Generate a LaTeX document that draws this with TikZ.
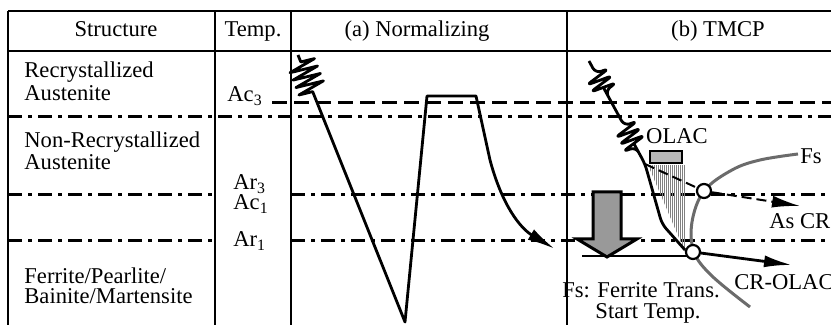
\documentclass[tikz,border=0pt]{standalone}
\usepackage{fontspec}
\setmainfont{Liberation Serif}
\usetikzlibrary{arrows.meta,decorations.pathmorphing,calc}

\definecolor{fsgrau}{gray}{0.42}
\definecolor{boxgrau}{gray}{0.72}
\definecolor{pfeilgrau}{gray}{0.6}

\tikzset{
    tabelle/.style={line width=0.8pt},
    strich/.style={line width=1.5pt, dash pattern=on 7.5pt off 3.5pt},
    strichpunkt/.style={line width=1.5pt, dash pattern=on 7pt off 3pt on 2pt off 3pt},
    kurve/.style={line width=1.4pt, line join=round},
    feder/.style={decoration={zigzag, amplitude=7pt, segment length=4pt}},
    spitze/.style={-{Latex[length=14pt, width=6pt]}},
    ring/.style={circle, draw, line width=1.1pt, fill=white, minimum size=7pt, inner sep=0pt},
    txt/.style={font=\fontsize{11.3}{13.5}\selectfont, inner sep=0pt, anchor=base west}
}

\begin{document}
\begin{tikzpicture}[x=0.5pt, y=-0.5pt]
    \useasboundingbox (0,0) rectangle (831,325);
    % Tabelle
    \draw[tabelle] (8,11) -- (831,11) (8,51) -- (831,51);
    \foreach \x in {8,215,291,567} \draw[tabelle] (\x,11) -- (\x,325);
    \path node[txt, anchor=base] (struktur) at (116,37) {Structure}
          node[txt, anchor=base] (temp) at (253,37) {Temp.}
          node[txt, anchor=base] (norm) at (417,37) {(a) Normalizing}
          node[txt, anchor=base] (tmcp) at (718,37) {(b) TMCP};
    \path node[txt] (rek1) at (24,78) {Recrystallized}
          node[txt] (rek2) at (24,101) {Austenite}
          node[txt] (nrek1) at (24,148) {Non-Recrystallized}
          node[txt] (nrek2) at (24,170) {Austenite}
          node[txt] (fp1) at (24,284) {Ferrite/Pearlite/}
          node[txt] (fp2) at (24,304) {Bainite/Martensite};
    \path node[txt] (ac3) at (227,102) {Ac\textsubscript{3}}
          node[txt] (ar3) at (233,190) {Ar\textsubscript{3}}
          node[txt] (ac1) at (233,210) {Ac\textsubscript{1}}
          node[txt] (ar1) at (233,247) {Ar\textsubscript{1}};
    % Temperaturlinien
    \draw[strich] (272,103) -- (831,103);
    \draw[strichpunkt] (8,117) -- (831,117);
    \draw[strichpunkt] (8,195) -- (213,195) (291,195) -- (831,195);
    \draw[strichpunkt] (8,241) -- (213,241) (291,241) -- (831,241);

    % (a) Normalizing
    \coordinate (a0) at (298,55);
    \coordinate (a1) at (405,322);
    \coordinate (a2) at (427,96);
    \coordinate (a3) at (476,96);
    \coordinate (a4) at (490,160);
    \coordinate (a5) at (555,249);
    \draw[kurve, spitze] (a0) -- ($(a0)!0.026!(a1)$)
        decorate[feder] {-- ($(a0)!0.15!(a1)$)}
        -- (a1) -- (a2) -- (a3) -- (a4) .. controls (502,205) and (520,228) .. (a5);

    % (b) TMCP
    \begin{scope}
        \clip (648,165) -- (685,165) -- (685,252) -- cycle;
        \foreach \x in {648,650,...,686} \draw[gray, line width=0.45pt] (\x,165) -- (\x,255);
    \end{scope}
    \draw[fill=boxgrau, line width=0.6pt] (650,151) rectangle (682,163);
    \node[txt, anchor=base] (olac) at (677,144) {OLAC};

    \draw[fsgrau, line width=1.5pt] plot[smooth, tension=0.6] coordinates
        {(798,154) (760,160) (732,170) (704,191) (692,222) (694,252) (712,276) (750,307)};
    \node[txt] (fs) at (800,164) {Fs};

    \coordinate (b0) at (589,61);
    \coordinate (b1) at (645,164);
    \draw[kurve, rounded corners=3pt] (b0) -- ($(b0)!0.12!(b1)$)
        decorate[feder] {-- ($(b0)!0.32!(b1)$)}
        -- ($(b0)!0.63!(b1)$)
        decorate[feder] {-- ($(b0)!0.86!(b1)$)}
        -- (b1) -- (662,224) -- (685,250);

    \coordinate (basis) at (582,256);
    \coordinate (astip) at (800,206);
    \coordinate (crtip) at (792,265);
    \draw[line width=0.8pt] (basis) -- (basis -| 694,0);
    \node[ring] (r1) at (704,191) {};
    \node[ring] (r2) at (693,252) {};
    \draw[line width=1pt, dash pattern=on 5pt off 2.5pt] (b1) -- (r1);
    \draw[line width=1pt, dash pattern=on 5pt off 2.5pt, spitze] (r1) -- (astip);
    \draw[kurve, spitze] (r2) -- (crtip);
    \node[txt] (ascr) at (769,229) {As CR};
    \node[txt] (crolac) at (734,290) {CR-OLAC};

    % Abkuehlpfeil
    \draw[fill=pfeilgrau, line width=1.5pt, line join=miter]
        (593,192) -- (621,192) -- (621,239) -- (637,239) -- (607,257)
        -- (577,239) -- (593,239) -- cycle;

    \node[txt, anchor=base] (fs1) at (641,298) {Fs: Ferrite Trans.};
    \node[txt, anchor=base] (fs2) at (648,319) {Start Temp.};
\end{tikzpicture}
\end{document}
